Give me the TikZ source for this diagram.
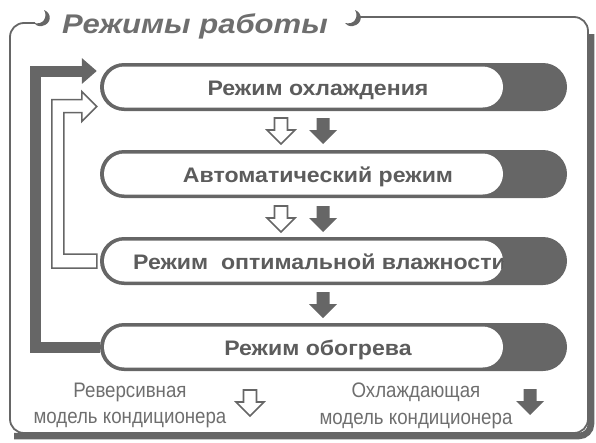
\documentclass[tikz,border=0pt]{standalone}
\usepackage{fontspec}
\setmainfont{Liberation Sans}
\newfontfamily\narrowfont[FakeStretch=0.89]{Liberation Sans}
\newfontfamily\widefont[FakeStretch=1.1]{Liberation Sans}
\newfontfamily\titlefont[FakeStretch=1.15]{Liberation Sans}
\usetikzlibrary{shapes.misc,arrows.meta,calc}
\definecolor{dk}{HTML}{666666}
\definecolor{txt}{HTML}{5C5C5C}
\definecolor{legc}{HTML}{6E6E6E}
\definecolor{ttl}{HTML}{6E6E6E}
\tikzset{
  outerpill/.style={rounded rectangle, fill=dk, minimum width=467pt, minimum height=48pt, inner sep=0pt},
  innerpill/.style={rounded rectangle, fill=white, minimum width=399pt, minimum height=41pt, inner sep=0pt},
  lbl/.style={text=txt, font=\widefont\fontsize{21}{24}\selectfont\bfseries, inner sep=0pt, anchor=base},
  leg/.style={text=legc, font=\narrowfont\fontsize{21}{24}\selectfont, inner sep=0pt, anchor=base},
  downarr/.pic={\path[pic actions] (-6.5,0) -- (6.5,0) -- (6.5,12) -- (14,12) -- (0,26) -- (-14,12) -- (-6.5,12) -- cycle;},
  hollowarr/.style={draw=dk, line width=1.6pt, fill=white, line join=miter},
  fullarr/.style={fill=dk},
  crescent/.pic={\fill[dk] (2,-8) .. controls (10,-5) and (10,6) .. (0,8) .. controls (-4,8.5) and (-7,7) .. (-8,5) .. controls (-4,6) and (0,5) .. (2,2) .. controls (4,-1) and (4,-5) .. cycle;},
}
\begin{document}
\begin{tikzpicture}[x=1pt,y=-1pt]
\useasboundingbox (0,0) rectangle (596,442);
% crescents first
\pic at (42,18) {crescent};
\pic at (353,18) {crescent};
% frame
\draw[dk, line width=6.5pt, rounded corners=12pt] (14,436) -- (591,436) -- (591,34);
\draw[dk, line width=1.8pt, rounded corners=14pt] (35,23) -- (10,23) -- (10,433) -- (588,433) -- (588,17) -- (360,17);
\node[text=ttl, font=\titlefont\fontsize{27}{30}\selectfont\bfseries\itshape, inner sep=0pt, anchor=base west] (title) at (62,33) {Режимы работы};
% boxes
\node[outerpill] (b1) at (333.5,87) {};
\node[innerpill] (w1) at (303.5,87) {};
\node[lbl] (l1) at (318,95) {Режим охлаждения};
\node[outerpill] (b2) at (333.5,174) {};
\node[innerpill] (w2) at (303.5,174) {};
\node[lbl] (l2) at (318,182) {Автоматический режим};
\node[outerpill] (b3) at (333.5,261) {};
\node[innerpill] (w3) at (303.5,261) {};
\begin{scope}
\clip (104,240.5) [rounded corners=20.5pt] rectangle (503,281.5);
\node[lbl, anchor=base west] (l3) at (133,269) {Режим\ \ оптимальной влажности};
\end{scope}
\node[outerpill] (b4) at (333.5,347) {};
\node[innerpill] (w4) at (303.5,347) {};
\node[lbl] (l4) at (318,355) {Режим обогрева};
% arrows between boxes
\pic[hollowarr] at (281,118) {downarr};
\pic[fullarr] at (323,118) {downarr};
\pic[hollowarr] at (281,206) {downarr};
\pic[fullarr] at (323,206) {downarr};
\pic[fullarr] at (323,292) {downarr};
% left connectors
\coordinate (t1) at ($(b1.west)+(-3,-16)$);
\draw[dk, line width=11pt, -{Triangle[length=15pt,width=25pt]}] (b4.west) -- ++(-64,0) |- (t1);
\draw[hollowarr, line width=1.5pt] ($(b3.west)+(-3,7)$) -- ++(-45,0) -- ++(0,-168.5) -- ++(30,0) -- ++(0,-8) -- ++(15,15) -- ++(-15,15) -- ++(0,-9) -- ++(-18,0) -- ++(0,141.5) -- ++(33,0) -- cycle;
% legend
\node[leg] (r1) at (130,397) {Реверсивная};
\node[leg] (r2) at (130,423) {модель кондиционера};
\pic[hollowarr] at (250,390) {downarr};
\node[leg] (c1) at (416,397) {Охлаждающая};
\node[leg] (c2) at (416,424) {модель кондиционера};
\pic[fullarr] at (530,389) {downarr};
\end{tikzpicture}
\end{document}
